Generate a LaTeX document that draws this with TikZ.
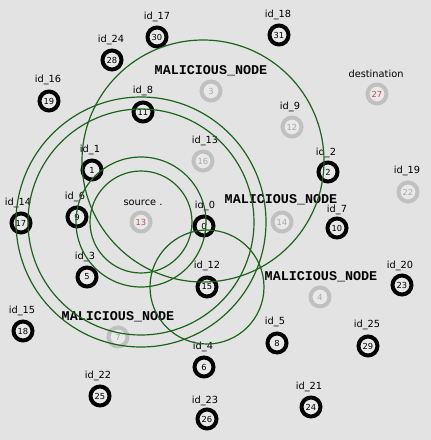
\documentclass[tikz,border=0pt]{standalone}
\usepackage{fontspec}
\setmainfont{DejaVu Sans}
\newfontfamily\malfont{Liberation Mono}
\definecolor{bgc}{HTML}{E3E3E3}
\definecolor{nfill}{HTML}{E9E9E9}
\definecolor{gring}{HTML}{C0C0C0}
\definecolor{gnum}{HTML}{A8A8A8}
\definecolor{rnum}{HTML}{B85050}
\definecolor{rngc}{HTML}{1C641C}
\tikzset{
  nd/.style={circle, draw=black, line width=4pt, minimum size=19pt, inner sep=0pt, fill=nfill, font=\fontsize{8.3}{9}\selectfont},
  gnd/.style={nd, draw=gring, text=gnum},
  snd/.style={nd, draw=gring, text=rnum},
  lbl/.style={font=\fontsize{9.8}{10}\selectfont, inner sep=0pt},
  mal/.style={font=\malfont\bfseries\fontsize{13.4}{14}\selectfont, inner sep=0pt},
  rng/.style={draw=rngc, line width=1.2pt}
}
\begin{document}
\begin{tikzpicture}[x=1pt,y=-1pt]
\useasboundingbox (0,0) rectangle (431,440);
\fill[bgc] (0,0) rectangle (431,440);
% normal nodes
\node[nd] (n30) at (157,37) {30};
\node[nd] (n31) at (279,35) {31};
\node[nd] (n28) at (112,60) {28};
\node[nd] (n19) at (49,101) {19};
\node[nd] (n11) at (143,112) {11};
\node[nd] (n1) at (92,170) {1};
\node[nd] (n9) at (77,217) {9};
\node[nd] (n17) at (21,223) {17};
\node[nd] (n5) at (87,277) {5};
\node[nd] (n0) at (204,226) {0};
\node[nd] (n15) at (207,287) {15};
\node[nd] (n2) at (328,172) {2};
\node[nd] (n10) at (337,228) {10};
\node[nd] (n23) at (402,285) {23};
\node[nd] (n18) at (23,331) {18};
\node[nd] (n25) at (100,396) {25};
\node[nd] (n6) at (204,367) {6};
\node[nd] (n26) at (207,419) {26};
\node[nd] (n8) at (277,343) {8};
\node[nd] (n29) at (368,346) {29};
\node[nd] (n24) at (311,407) {24};
% grey nodes
\node[gnd] (n12) at (292,127) {12};
\node[gnd] (n16) at (203,161) {16};
\node[gnd] (n22) at (408,192) {22};
\node[gnd] (m3) at (211,91) {3};
\node[gnd] (m14) at (282,222) {14};
\node[gnd] (m4) at (320,297) {4};
\node[gnd] (m7) at (118,337) {7};
\node[snd] (n13) at (141,222) {13};
\node[snd] (n27) at (377,94) {27};
% labels
\node[lbl] (l17) at (157,17) {id\_17};
\node[lbl] (l18) at (278,15) {id\_18};
\node[lbl] (l24) at (111,40) {id\_24};
\node[lbl] (l16) at (48,80) {id\_16};
\node[lbl] (l8) at (143,91) {id\_8};
\node[lbl] (l9) at (290,107) {id\_9};
\node[lbl] (l13) at (205,141) {id\_13};
\node[lbl] (l1) at (90,150) {id\_1};
\node[lbl] (l6) at (75,197) {id\_6};
\node[lbl] (l14) at (18,203) {id\_14};
\node[lbl] (l3) at (85,257) {id\_3};
\node[lbl] (l0) at (205,206) {id\_0};
\node[lbl] (l12) at (207,266) {id\_12};
\node[lbl] (l2) at (326,153) {id\_2};
\node[lbl] (l19) at (407,171) {id\_19};
\node[lbl] (l7) at (337,210) {id\_7};
\node[lbl] (l20) at (400,266) {id\_20};
\node[lbl] (l15) at (22,311) {id\_15};
\node[lbl] (l22) at (98,376) {id\_22};
\node[lbl] (l4) at (203,347) {id\_4};
\node[lbl] (l23) at (205,401) {id\_23};
\node[lbl] (l5) at (275,322) {id\_5};
\node[lbl] (l25) at (367,325) {id\_25};
\node[lbl] (l21) at (309,387) {id\_21};
\node[lbl] (ldst) at (376,74) {destination};
\node[lbl] (lsrc) at (143,203) {source .};
\node[mal] (mal1) at (211,71) {MALICIOUS\_NODE};
\node[mal] (mal2) at (281,200) {MALICIOUS\_NODE};
\node[mal] (mal3) at (321,277) {MALICIOUS\_NODE};
\node[mal] (mal4) at (118,317) {MALICIOUS\_NODE};
% transmission ranges
\draw[rng] (n16) circle[radius=121pt];
\draw[rng] (n13) circle[radius=125pt];
\draw[rng] (n13) circle[radius=113pt];
\draw[rng] (n13) circle[radius=65pt];
\draw[rng] (n13) circle[radius=51pt];
\draw[rng] (n15) circle[radius=57pt];
\end{tikzpicture}
\end{document}
